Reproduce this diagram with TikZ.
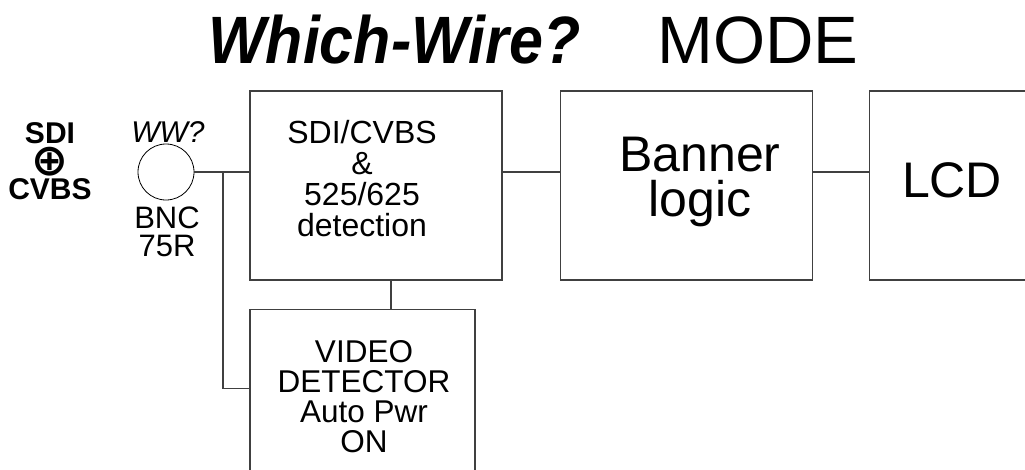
\documentclass[tikz,border=0pt]{standalone}
\usepackage{fontspec}
\setmainfont{Liberation Sans}
\newfontfamily\symfont{DejaVu Sans}
\usetikzlibrary{positioning}
\definecolor{wirecol}{RGB}{64,64,64}
\tikzstyle{blk}=[draw=wirecol, line width=1.3pt, minimum width=252pt, minimum height=189pt, inner sep=0pt]
\tikzstyle{wire}=[draw=wirecol, line width=1.3pt]
\tikzstyle{txt}=[inner sep=0pt, align=center]
\tikzstyle{bncjack}=[circle, draw=black, line width=0.8pt, minimum size=56pt, inner sep=0pt]

\begin{document}
\begin{tikzpicture}[x=1pt,y=-1pt]
		    \useasboundingbox (0,0) rectangle (1025,469);
		    \clip (0,0) rectangle (1025,469);
		    \node [txt, anchor=base west, font=\fontsize{67}{67}\selectfont\bfseries\itshape] (which) at (208,63) {\scalebox{0.91}[1]{Which-Wire?}};
		    \node [txt, anchor=base west, font=\fontsize{67}{67}\selectfont] (mode) at (657,63) {MODE};
		    \node [blk] (sdi) at (376,185.5) {};
		    \node [blk] (banner) [right=57pt of sdi] {};
		    \node [blk] (lcd) [right=56pt of banner] {};
		    \node [blk, minimum width=225pt] (video) [below right=28pt and 0pt of sdi.south west] {};
		    \node [txt, font=\fontsize{32}{31}\selectfont] (sditxt) at (362,179) {SDI/CVBS\\\&\\525/625\\detection};
		    \node [txt, font=\fontsize{50}{45}\selectfont] (bantxt) at (700,182) {Banner\\logic};
		    \node [txt, font=\fontsize{50}{50}\selectfont] (lcdtxt) at (952,180) {LCD};
		    \node [txt, font=\fontsize{31.5}{30}\selectfont] (vidtxt) at (364,397) {VIDEO\\DETECTOR\\Auto Pwr\\ON};
		    \node [bncjack] (bnc) at (166,172) {};
		    \node [txt, anchor=base, font=\fontsize{30}{30}\selectfont\itshape] (ww) at (168,142) {WW?};
		    \node [txt, font=\fontsize{31}{28}\selectfont] (bnctxt) at (167,232) {BNC\\75R};
		    \node [txt, font=\fontsize{30}{28}\selectfont\bfseries] (src) at (50,161.5) {SDI\\{\symfont\bfseries\fontsize{44}{28}\selectfont\raisebox{-3.5pt}{⊕}}\\CVBS};
		    \coordinate (tap) at (223,172);
		    \draw [wire] (bnc.east) -- (bnc.east -| sdi.west);
		    \draw [wire] (tap) |- ([yshift=-80pt]video.north west);
		    \draw [wire] ([xshift=15pt]sdi.south) -- ([xshift=15pt]sdi.south |- video.north);
		    \draw [wire] (bnc.east -| sdi.east) -- (bnc.east -| banner.west);
		    \draw [wire] (bnc.east -| banner.east) -- (bnc.east -| lcd.west);
		\end{tikzpicture}
\end{document}
